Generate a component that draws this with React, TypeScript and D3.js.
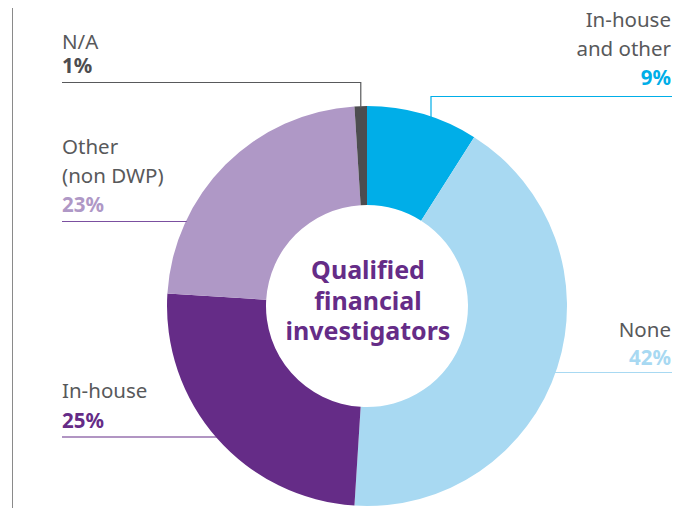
import React from "react";
import * as d3 from "d3";

const categories = ["In-house and other", "None", "In-house", "Other (non DWP)", "N/A"];
const values = [9, 42, 25, 23, 1];
const colors = ["#00aee8", "#a8d9f2", "#652c87", "#af98c6", "#4d4d50"];
const pctColors = ["#00aee8", "#a8d9f2", "#652c87", "#af98c6", "#4d4d50"];
const centerTitle = ["Qualified", "financial", "investigators"];

const W = 680, H = 508;
const cx = 367, cy = 306, R = 200, r0 = 101;
const TEXT = "#58595b";
const FONT = "'Noto Sans', 'Open Sans', sans-serif";

export default function App() {
  const pie = d3.pie<number>().sort(null).value((d) => d)(values);
  const arc = d3.arc<d3.PieArcDatum<number>>().innerRadius(r0).outerRadius(R);
  const pt = (a: number, rad: number) => [cx + rad * Math.sin(a), cy - rad * Math.cos(a)];

  const a4 = pie[4];
  const naMid = (a4.startAngle + a4.endAngle) / 2;
  const naTop = pt(naMid, R - 2);
  const ihoX = 431;
  const ihoY = cy - Math.sqrt(R * R - (ihoX - cx) ** 2);
  const otherY = 221.5;
  const otherX = cx - Math.sqrt(R * R - (cy - otherY) ** 2);
  const ihY = 437;
  const ihX = cx - Math.sqrt(R * R - (ihY - cy) ** 2);
  const noneY = 372.5;
  const noneX = cx + Math.sqrt(R * R - (noneY - cy) ** 2);

  const fs = 20.5;
  return (
    <svg width={W} height={H} style={{ position: "absolute", left: 0, top: 0 }} fontFamily={FONT}>
      <line x1={12.5} x2={12.5} y1={8} y2={H} stroke="#8a8a8a" strokeWidth={1} />
      <g transform={`translate(${cx},${cy})`}>
        {pie.map((d, i) => (
          <path key={categories[i]} d={arc(d) || ""} fill={colors[i]} />
        ))}
      </g>
      <g textAnchor="middle" fill="#652c87" fontWeight={700} fontSize={25}>
        {centerTitle.map((t, i) => (
          <text key={t} x={cx + 1} y={279 + i * 30.5}>{t}</text>
        ))}
      </g>

      {/* N/A */}
      <polyline points={`62,82.5 ${naTop[0]},82.5 ${naTop[0]},${naTop[1]}`} fill="none" stroke="#58595b" strokeWidth={1.2} />
      <text x={62} y={49} fontSize={fs} fill={TEXT}>N/A</text>
      <text x={62} y={73} fontSize={fs} fill={pctColors[4]} fontWeight={700}>{values[4]}%</text>

      {/* In-house and other */}
      <polyline points={`672,96.5 ${ihoX},96.5 ${ihoX},${ihoY + 3}`} fill="none" stroke={colors[0]} strokeWidth={1.2} />
      <g textAnchor="end" fontSize={fs}>
        <text x={671} y={27} fill={TEXT}>In-house</text>
        <text x={671} y={56} fill={TEXT}>and other</text>
        <text x={671} y={85} fill={pctColors[0]} fontWeight={700}>{values[0]}%</text>
      </g>

      {/* Other (non DWP) */}
      <line x1={62} x2={otherX + 1} y1={otherY} y2={otherY} stroke="#7b4fa0" strokeWidth={1.2} />
      <text x={62} y={154} fontSize={fs} fill={TEXT}>Other</text>
      <text x={62} y={183} fontSize={fs} fill={TEXT}>(non DWP)</text>
      <text x={62} y={212} fontSize={fs} fill={pctColors[3]} fontWeight={700}>{values[3]}%</text>

      {/* In-house */}
      <line x1={62} x2={ihX + 1} y1={ihY} y2={ihY} stroke={colors[2]} strokeWidth={1.2} />
      <text x={62} y={398} fontSize={fs} fill={TEXT}>In-house</text>
      <text x={62} y={428} fontSize={fs} fill={pctColors[2]} fontWeight={700}>{values[2]}%</text>

      {/* None */}
      <line x1={noneX - 1} x2={672} y1={noneY} y2={noneY} stroke={colors[1]} strokeWidth={1.2} />
      <g textAnchor="end" fontSize={fs}>
        <text x={671} y={337} fill={TEXT}>None</text>
        <text x={671} y={365} fill={pctColors[1]} fontWeight={700}>{values[1]}%</text>
      </g>
    </svg>
  );
}
